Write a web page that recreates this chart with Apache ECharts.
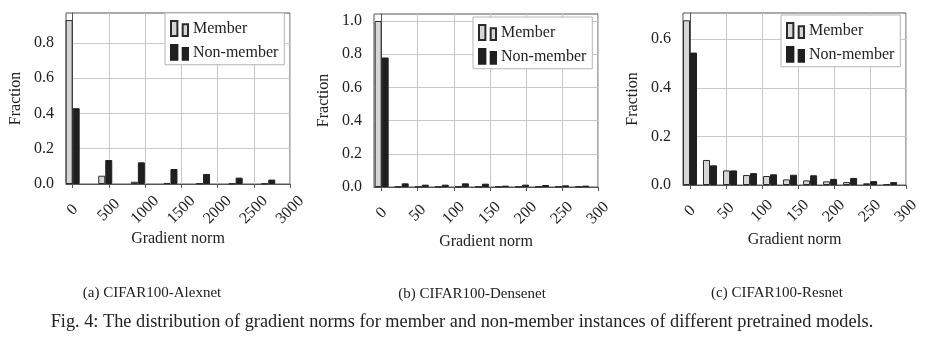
<!DOCTYPE html>
<html><head><meta charset="utf-8">
<script src="https://cdn.jsdelivr.net/npm/echarts@6/dist/echarts.min.js"></script>
<style>html,body{margin:0;padding:0;background:#fff}#c{width:928px;height:345px}</style>
</head><body><div id="c"></div>
<script>
// ---- data ----
const seriesNames = ['Member', 'Non-member'];
const panelTitles = ['(a) CIFAR100-Alexnet', '(b) CIFAR100-Densenet', '(c) CIFAR100-Resnet'];
const figCaption = 'Fig. 4: The distribution of gradient norms for member and non-member instances of different pretrained models.';
const xAxisName = 'Gradient norm';
const yAxisName = 'Fraction';

const alexBins = [0, 450, 900, 1350, 1800, 2250, 2700];
const alexMember = [0.93, 0.047, 0.013, 0.006, 0.004, 0.002, 0.002];
const alexNonMember = [0.43, 0.136, 0.123, 0.085, 0.057, 0.036, 0.025];

const denseBins = [0, 27.8, 55.6, 83.4, 111.2, 139, 166.8, 194.6, 222.4, 250.2, 278];
const denseMember = [1.0, 0.002, 0.002, 0.002, 0.002, 0.002, 0.003, 0.002, 0.003, 0.002, 0.003];
const denseNonMember = [0.78, 0.022, 0.014, 0.014, 0.022, 0.020, 0.008, 0.014, 0.012, 0.010, 0.008];

const resBins = [0, 27.8, 55.6, 83.4, 111.2, 139, 166.8, 194.6, 222.4, 250.2, 278];
const resMember = [0.678, 0.103, 0.060, 0.041, 0.037, 0.023, 0.019, 0.015, 0.012, 0.007, 0.004];
const resNonMember = [0.545, 0.081, 0.060, 0.049, 0.044, 0.042, 0.040, 0.025, 0.029, 0.016, 0.012];

const alexXTicks = [0, 500, 1000, 1500, 2000, 2500, 3000];
const smallXTicks = [0, 50, 100, 150, 200, 250, 300];
const alexYTicks = [0, 0.2, 0.4, 0.6, 0.8];
const denseYTicks = [0, 0.2, 0.4, 0.6, 0.8, 1.0];
const resYTicks = [0, 0.2, 0.4, 0.6];

// ---- layout / style ----
const FONT = '"Liberation Serif", "Times New Roman", serif';
const TXT = '#222';
const panels = [
  {bins: alexBins, m: alexMember, n: alexNonMember, xt: alexXTicks, yt: alexYTicks,
   grid: {left: 66, top: 13, width: 224, height: 171}, xMin: -92, xMax: 3000, yMax: 0.97,
   legend: {left: 165, top: 13}, nameGapX: 47},
  {bins: denseBins, m: denseMember, n: denseNonMember, xt: smallXTicks, yt: denseYTicks,
   grid: {left: 374, top: 14, width: 224, height: 173}, xMin: -10.6, xMax: 300, yMax: 1.042,
   legend: {left: 473, top: 17}, nameGapX: 45},
  {bins: resBins, m: resMember, n: resNonMember, xt: smallXTicks, yt: resYTicks,
   grid: {left: 683, top: 13, width: 223, height: 172}, xMin: -9.7, xMax: 300, yMax: 0.708,
   legend: {left: 781, top: 15}, nameGapX: 47}
];
const captionPos = [[152, 293], [472, 294], [777, 293]];

const memberStyle = {color: '#d6d6d6', borderColor: '#2a2a2a', borderWidth: 1};
const nonStyle = {color: '#1f1f1f', borderColor: '#1f1f1f', borderWidth: 1};
const legendIcon = 'path://M0,0H6V14H0Z M11,3H16V14H11Z';

const option = {
  animation: false,
  backgroundColor: '#fff',
  textStyle: {fontFamily: FONT, color: TXT},
  grid: [], xAxis: [], yAxis: [], series: [], legend: [], graphic: []
};

panels.forEach((p, i) => {
  option.grid.push(Object.assign({show: true, borderColor: '#555', borderWidth: 1, containLabel: false}, p.grid));
  option.xAxis.push({
    type: 'value', gridIndex: i, min: p.xMin, max: p.xMax, splitNumber: 6,
    name: xAxisName, nameLocation: 'middle', nameGap: p.nameGapX,
    nameTextStyle: {fontFamily: FONT, fontSize: 16, color: TXT},
    axisLine: {show: true, onZero: false, lineStyle: {color: '#555'}},
    axisTick: {show: true, customValues: p.xt, length: 4, lineStyle: {color: '#555'}},
    axisLabel: {customValues: p.xt, rotate: 45, margin: 26, align: 'center', verticalAlign: 'middle',
      fontFamily: FONT, fontSize: 16, color: TXT, formatter: v => String(v)},
    splitLine: {show: true, lineStyle: {color: '#c8c8c8', width: 1}}
  });
  option.yAxis.push({
    type: 'value', gridIndex: i, min: 0, max: p.yMax, interval: 0.2,
    name: yAxisName, nameLocation: 'middle', nameGap: 42,
    nameTextStyle: {fontFamily: FONT, fontSize: 16, color: TXT},
    axisLine: {show: true, lineStyle: {color: '#555'}},
    axisTick: {show: true, customValues: p.yt, length: 4, lineStyle: {color: '#555'}},
    axisLabel: {customValues: p.yt, margin: 12, fontFamily: FONT, fontSize: 16, color: TXT,
      formatter: v => v.toFixed(1)},
    splitLine: {show: true, lineStyle: {color: '#c8c8c8', width: 1}}
  });
  option.series.push({
    type: 'bar', name: seriesNames[0], xAxisIndex: i, yAxisIndex: i, clip: true,
    barWidth: 7, barGap: '0%', itemStyle: memberStyle,
    data: p.bins.map((b, k) => [b, p.m[k]])
  });
  option.series.push({
    type: 'bar', name: seriesNames[1], xAxisIndex: i, yAxisIndex: i, clip: true,
    barWidth: 7, barGap: '0%', itemStyle: nonStyle,
    data: p.bins.map((b, k) => [b, p.n[k]])
  });
  option.legend.push({
    data: seriesNames, orient: 'vertical', left: p.legend.left, top: p.legend.top,
    icon: legendIcon, itemWidth: 17, itemHeight: 15, itemGap: 7,
    padding: [7, 6, 4, 5], backgroundColor: '#fff', borderColor: '#b5b5b5', borderWidth: 1,
    selectedMode: false,
    textStyle: {fontFamily: FONT, fontSize: 16, color: TXT}
  });
  option.graphic.push({
    type: 'text', x: captionPos[i][0], y: captionPos[i][1], silent: true,
    style: {text: panelTitles[i], fontFamily: FONT, fontSize: 15, fill: TXT, align: 'center', verticalAlign: 'middle'}
  });
});
option.graphic.push({
  type: 'text', x: 462, y: 322, silent: true,
  style: {text: figCaption, fontFamily: FONT, fontSize: 18.3, fill: TXT, align: 'center', verticalAlign: 'middle'}
});

const chart = echarts.init(document.getElementById('c'), null, {renderer: 'canvas'});
chart.setOption(option);
</script>
</body></html>
